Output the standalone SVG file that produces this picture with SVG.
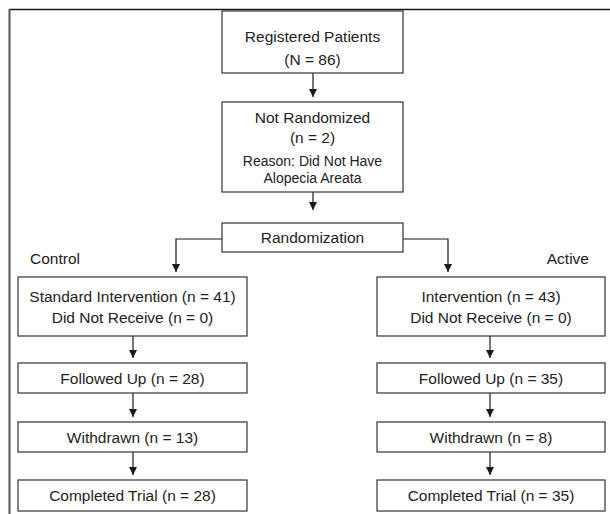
<svg xmlns="http://www.w3.org/2000/svg" width="610" height="514" viewBox="0 0 610 514">
<defs>
<marker id="ah" markerUnits="userSpaceOnUse" markerWidth="8" markerHeight="8" refX="8" refY="4" orient="auto" viewBox="0 0 8 8">
<path d="M0,0 L8,4 L0,8 Z" fill="#1a1a1a"/>
</marker>
<style>
.box{fill:#fff;stroke:#333;stroke-width:1.2}
.t{font-family:"Liberation Sans",Arial,sans-serif;font-size:15.5px;fill:#222;text-anchor:middle}
.s{font-size:14px}
.c{fill:none;stroke:#1a1a1a;stroke-width:1.2}
.lbl{font-family:"Liberation Sans",Arial,sans-serif;font-size:15.5px;fill:#222}
</style>
</defs>
<rect x="0" y="0" width="610" height="514" fill="#fff"/>
<line x1="9" y1="9.5" x2="610" y2="9.5" stroke="#1a1a1a" stroke-width="1.5"/>
<line x1="9.5" y1="9" x2="9.5" y2="514" stroke="#555" stroke-width="2"/>

<g id="connectors">
<line class="c" x1="313" y1="73" x2="313" y2="97" marker-end="url(#ah)"/>
<line class="c" x1="313" y1="192" x2="313" y2="210" marker-end="url(#ah)"/>
<polyline class="c" points="222,239 176,239 176,272" marker-end="url(#ah)"/>
<polyline class="c" points="403,239 448,239 448,272" marker-end="url(#ah)"/>
<line class="c" x1="133" y1="336" x2="133" y2="358" marker-end="url(#ah)"/>
<line class="c" x1="133" y1="393" x2="133" y2="417" marker-end="url(#ah)"/>
<line class="c" x1="133" y1="452" x2="133" y2="475" marker-end="url(#ah)"/>
<line class="c" x1="490" y1="336" x2="490" y2="358" marker-end="url(#ah)"/>
<line class="c" x1="490" y1="393" x2="490" y2="417" marker-end="url(#ah)"/>
<line class="c" x1="490" y1="452" x2="490" y2="475" marker-end="url(#ah)"/>
</g>

<g id="registered">
<rect class="box" x="222" y="11" width="181" height="62"/>
<text class="t" x="312.5" y="42">Registered Patients</text>
<text class="t" x="312.5" y="65">(N = 86)</text>
</g>
<g id="not-randomized">
<rect class="box" x="222" y="102" width="181" height="90"/>
<text class="t" x="312.5" y="122.5">Not Randomized</text>
<text class="t" x="312.5" y="143">(n = 2)</text>
<text class="t s" x="312.5" y="165.5">Reason: Did Not Have</text>
<text class="t s" x="312.5" y="182.5">Alopecia Areata</text>
</g>
<g id="randomization">
<rect class="box" x="222" y="223" width="181" height="29"/>
<text class="t" x="312.5" y="243">Randomization</text>
</g>
<g id="control-label"><text class="lbl" x="30" y="264">Control</text></g>
<g id="active-label"><text class="lbl" x="589" y="264" text-anchor="end">Active</text></g>

<g id="standard-intervention">
<rect class="box" x="18" y="277" width="229" height="59"/>
<text class="t" x="132.5" y="302">Standard Intervention (n = 41)</text>
<text class="t" x="132.5" y="323">Did Not Receive (n = 0)</text>
</g>
<g id="followed-left">
<rect class="box" x="18" y="363" width="229" height="30"/>
<text class="t" x="132.5" y="384">Followed Up (n = 28)</text>
</g>
<g id="withdrawn-left">
<rect class="box" x="18" y="422" width="229" height="30"/>
<text class="t" x="132.5" y="442.5">Withdrawn (n = 13)</text>
</g>
<g id="completed-left">
<rect class="box" x="18" y="480" width="229" height="31"/>
<text class="t" x="132.5" y="501">Completed Trial (n = 28)</text>
</g>

<g id="intervention">
<rect class="box" x="377" y="277" width="228" height="59"/>
<text class="t" x="491" y="302">Intervention (n = 43)</text>
<text class="t" x="491" y="323">Did Not Receive (n = 0)</text>
</g>
<g id="followed-right">
<rect class="box" x="377" y="363" width="228" height="30"/>
<text class="t" x="491" y="384">Followed Up (n = 35)</text>
</g>
<g id="withdrawn-right">
<rect class="box" x="377" y="422" width="228" height="30"/>
<text class="t" x="491" y="442.5">Withdrawn (n = 8)</text>
</g>
<g id="completed-right">
<rect class="box" x="377" y="480" width="228" height="31"/>
<text class="t" x="491" y="501">Completed Trial (n = 35)</text>
</g>
</svg>
